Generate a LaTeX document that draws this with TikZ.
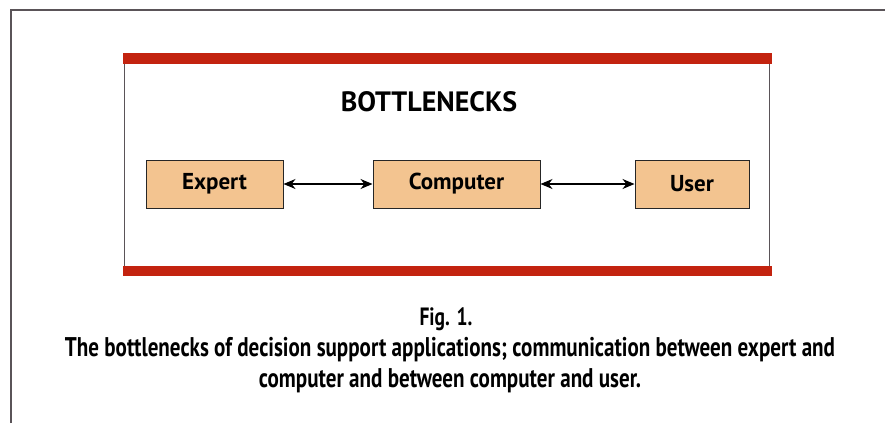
\documentclass[tikz,border=0pt]{standalone}
\usepackage{fontspec}
\setmainfont{PT Sans}
\newfontfamily\capfont[FakeStretch=0.78]{PT Sans}
\usetikzlibrary{arrows.meta}
\definecolor{barred}{HTML}{C3230F}
\definecolor{boxfill}{HTML}{F3C490}
\definecolor{framegray}{HTML}{5A5458}
\tikzset{
  agent/.style={draw=black!85, line width=1pt, fill=boxfill, minimum height=48pt, inner sep=0pt, font=\bfseries\fontsize{23}{26}\selectfont},
  link/.style={{Stealth[length=12pt,width=10pt]}-{Stealth[length=12pt,width=10pt]}, line width=1.2pt, black},
  bar/.style={fill=barred, draw=none},
}
\begin{document}
\begin{tikzpicture}[x=1pt,y=-1pt]
\useasboundingbox (0,0) rectangle (885,423);
% outer frame
\draw[framegray, line width=1.2pt] (11,423) -- (11,10) -- (885,10);
% inner frame
\draw[framegray, line width=0.9pt] (124,63) -- (124,266);
\draw[framegray, line width=0.9pt] (769,63) -- (769,266);
\fill[bar] (123,53) rectangle (772,63.5);
\fill[bar] (123,265.5) rectangle (772,276);
\node[font=\bfseries\fontsize{28}{32}\selectfont] (title) at (429,102) {BOTTLENECKS};
\node[agent, minimum width=137pt] (expert) at (214.5,184) {Expert};
\node[agent, minimum width=167pt] (computer) at (456.5,184) {Computer};
\node[agent, minimum width=114pt] (user) at (692,184) {User};
\draw[link] (expert.east) -- (computer.west);
\draw[link] (computer.east) -- (user.west);
\node[font=\capfont\bfseries\fontsize{25}{28}\selectfont] (fig) at (446,319) {Fig. 1.};
\node[font=\capfont\bfseries\fontsize{27}{31}\selectfont, align=center] (cap) at (450,365) {The bottlenecks of decision support applications; communication between expert and\\computer and between computer and user.};
\end{tikzpicture}
\end{document}
